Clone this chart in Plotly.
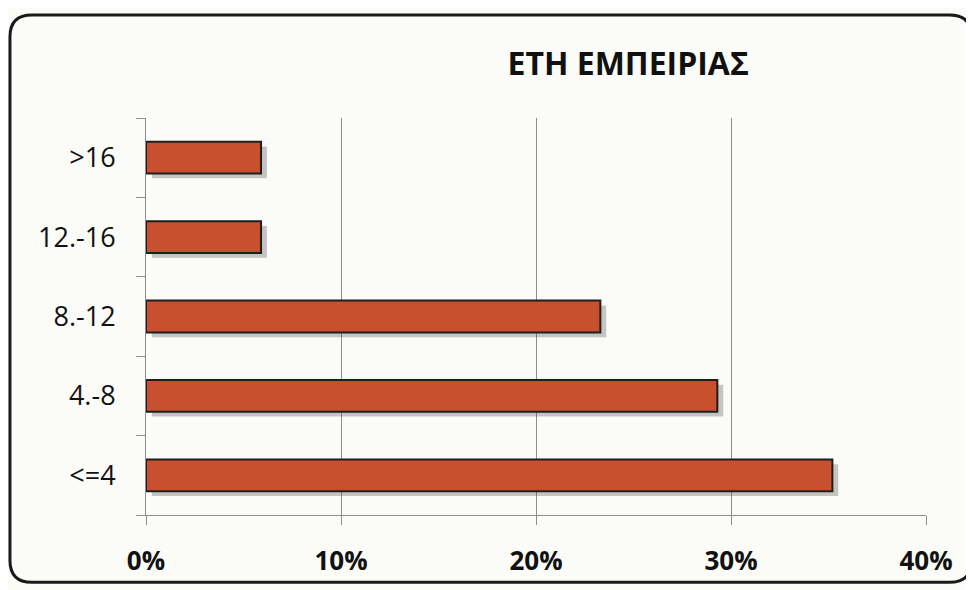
import plotly.graph_objects as go

# Έτη εμπειρίας - ποσοστά
categories = ["<=4", "4.-8", "8.-12", "12.-16", ">16"]
values = [35.2, 29.3, 23.3, 5.9, 5.9]
x_ticks = [0, 10, 20, 30, 40]
x_labels = ["0%", "10%", "20%", "30%", "40%"]

FONT = "Open Sans"
BAR_COLOR = "#C9502E"

fig = go.Figure()

# σκιά πίσω από τις μπάρες
fig.add_trace(go.Bar(
    y=categories,
    x=values,
    base=0.3,
    orientation="h",
    width=0.4,
    offset=-0.26,
    marker_color="rgba(70,70,70,0.3)",
    marker_line_width=0,
    hoverinfo="skip",
))

fig.add_trace(go.Bar(
    y=categories,
    x=values,
    orientation="h",
    width=0.4,
    marker_color=BAR_COLOR,
    marker_line_color="#1e1e1e",
    marker_line_width=2,
))

# πλαίσιο με στρογγυλεμένες γωνίες
x0, x1 = -0.1744, 1.0585
y0, y1 = -0.1695, 1.2594
rx, ry = 0.028, 0.055
path = (
    f"M {x0+rx},{y1} L {x1-rx},{y1} Q {x1},{y1} {x1},{y1-ry} "
    f"L {x1},{y0+ry} Q {x1},{y0} {x1-rx},{y0} "
    f"L {x0+rx},{y0} Q {x0},{y0} {x0},{y0+ry} "
    f"L {x0},{y1-ry} Q {x0},{y1} {x0+rx},{y1} Z"
)
fig.add_shape(type="path", path=path, xref="paper", yref="paper",
              line=dict(color="#1a1a1a", width=3), layer="below")

# η σελίδα έχει περιθώριο 8px, οπότε το σχήμα είναι λίγο μικρότερο
fig.update_layout(
    width=966,
    height=582,
    margin=dict(l=138, r=48, t=110, b=71),
    paper_bgcolor="#FBFBF8",
    plot_bgcolor="rgba(0,0,0,0)",
    barmode="overlay",
    showlegend=False,
    title=dict(
        text="<b>ΕΤΗ ΕΜΠΕΙΡΙΑΣ</b>",
        x=0.642, xanchor="center",
        y=0.904, yanchor="middle",
        font=dict(family=FONT, size=32, color="#111"),
    ),
)

fig.update_xaxes(
    range=[0, 40],
    tickvals=x_ticks,
    ticktext=["<b>" + t + "</b>" for t in x_labels],
    showgrid=True,
    gridcolor="#8c8c94",
    gridwidth=1,
    showline=True,
    linecolor="#8c8c94",
    ticks="outside",
    ticklen=9,
    tickcolor="#8c8c94",
    ticklabelstandoff=14,
    tickfont=dict(family=FONT, size=26, color="#111"),
    zeroline=False,
)

fig.update_yaxes(
    categoryorder="array",
    categoryarray=categories,
    showline=True,
    linecolor="#8c8c94",
    ticks="outside",
    tickson="boundaries",
    ticklen=9,
    tickcolor="#8c8c94",
    ticklabelstandoff=24,
    tickfont=dict(family=FONT, size=27, color="#111"),
    showgrid=False,
)

fig.write_html("out.html")
